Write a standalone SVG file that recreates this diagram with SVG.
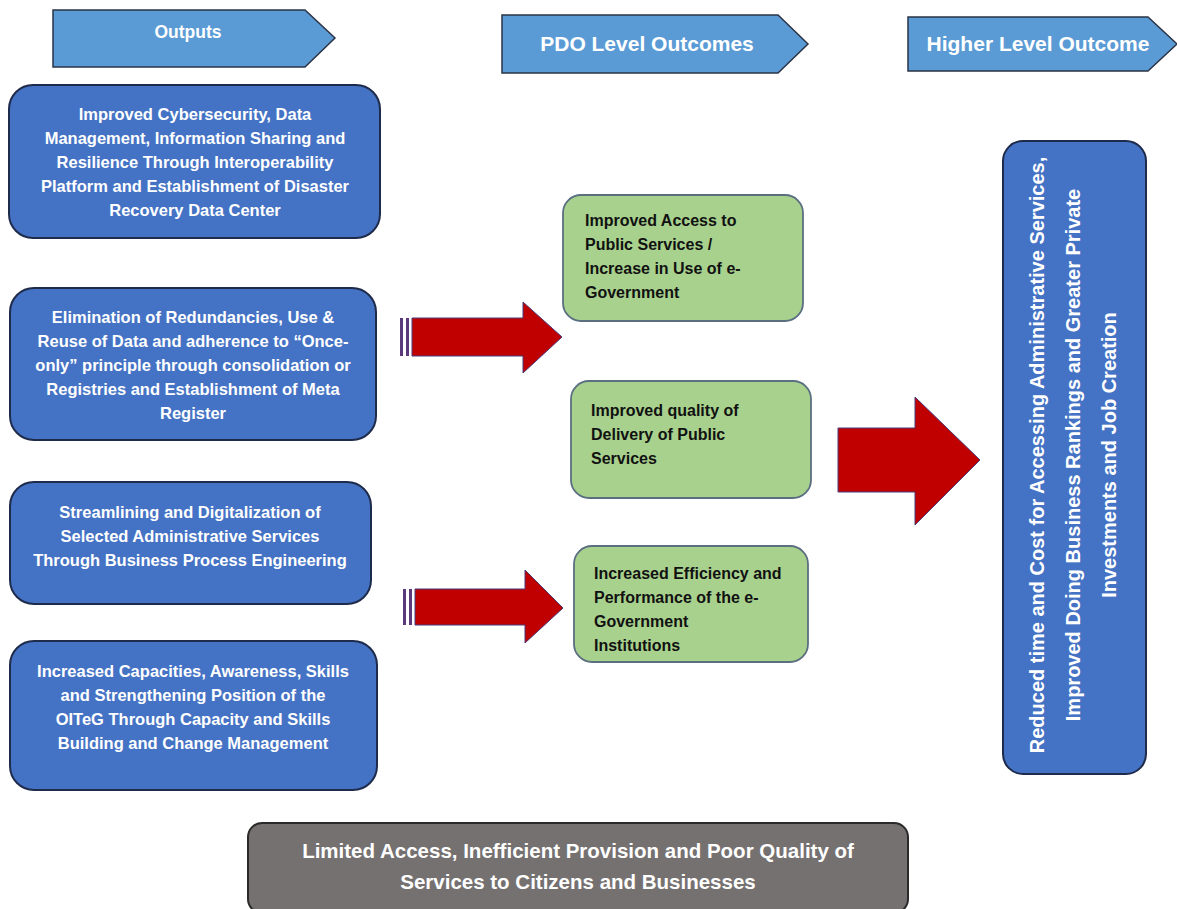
<svg xmlns="http://www.w3.org/2000/svg" width="1177" height="909" viewBox="0 0 1177 909">
<style>
.hdr{fill:#5B9BD5;stroke:#2b3445;stroke-width:1.5}
.out{fill:#4472C4;stroke:#1e2b4a;stroke-width:2}
.pdo{fill:#A9D18E;stroke:#5a6f80;stroke-width:1.8}
.gray{fill:#767171;stroke:#2a2a2a;stroke-width:2}
.red{fill:#C00000;stroke:#4a3a7a;stroke-width:1}
.stripe{fill:#5a3a7a}
text{font-family:"Liberation Sans",Arial,sans-serif;font-weight:bold}
.wt{fill:#ffffff}
.bk{fill:#111111}
.c{text-anchor:middle}
</style>
<rect width="1177" height="909" fill="#ffffff"/>
<g id="hdr-outputs">
<polygon class="hdr" points="53,10 305,10 335,38 305,67 53,67"/>
<text class="wt c" x="188" y="38" font-size="17.5">Outputs</text>
</g>
<g id="hdr-pdo">
<polygon class="hdr" points="502,15 778,15 808,44 778,73 502,73"/>
<text class="wt c" x="647" y="51" font-size="21">PDO Level Outcomes</text>
</g>
<g id="hdr-higher">
<polygon class="hdr" points="908,17 1148,17 1177,44 1148,71 908,71"/>
<text class="wt c" x="1038" y="51" font-size="21">Higher Level Outcome</text>
</g>
<g id="out1">
<rect class="out" x="9" y="85" width="371" height="153" rx="24"/>
<text class="wt c" font-size="16.5"><tspan x="195" y="120">Improved Cybersecurity, Data</tspan><tspan x="195" y="144">Management, Information Sharing  and</tspan><tspan x="195" y="168">Resilience Through Interoperability</tspan><tspan x="195" y="192">Platform and Establishment of Disaster</tspan><tspan x="195" y="216">Recovery Data Center</tspan></text>
</g>
<g id="out2">
<rect class="out" x="10" y="288" width="366" height="152" rx="24"/>
<text class="wt c" font-size="16.5"><tspan x="193" y="323">Elimination of Redundancies, Use &amp;</tspan><tspan x="193" y="347">Reuse of Data and adherence to “Once-</tspan><tspan x="193" y="371">only” principle through consolidation or</tspan><tspan x="193" y="395">Registries and Establishment of Meta</tspan><tspan x="193" y="419">Register</tspan></text>
</g>
<g id="out3">
<rect class="out" x="10" y="482" width="361" height="122" rx="24"/>
<text class="wt c" font-size="16.5"><tspan x="190" y="518">Streamlining  and Digitalization of</tspan><tspan x="190" y="542">Selected Administrative Services</tspan><tspan x="190" y="566">Through Business Process Engineering</tspan></text>
</g>
<g id="out4">
<rect class="out" x="10" y="641" width="367" height="149" rx="24"/>
<text class="wt c" font-size="16.5"><tspan x="193" y="677">Increased Capacities, Awareness, Skills</tspan><tspan x="193" y="701">and Strengthening Position of the</tspan><tspan x="193" y="725">OITeG Through Capacity and Skills</tspan><tspan x="193" y="749">Building and Change Management</tspan></text>
</g>
<g id="pdo1">
<rect class="pdo" x="563" y="195" width="240" height="126" rx="18"/>
<text class="bk" font-size="16"><tspan x="585" y="226">Improved Access to</tspan><tspan x="585" y="250">Public Services /</tspan><tspan x="585" y="274">Increase in Use of e-</tspan><tspan x="585" y="298">Government</tspan></text>
</g>
<g id="pdo2">
<rect class="pdo" x="571" y="381" width="240" height="117" rx="18"/>
<text class="bk" font-size="16"><tspan x="591" y="416">Improved quality of</tspan><tspan x="591" y="440">Delivery of Public</tspan><tspan x="591" y="464">Services</tspan></text>
</g>
<g id="pdo3">
<rect class="pdo" x="574" y="546" width="234" height="116" rx="18"/>
<text class="bk" font-size="16"><tspan x="594" y="579">Increased Efficiency and</tspan><tspan x="594" y="603">Performance of the e-</tspan><tspan x="594" y="627">Government</tspan><tspan x="594" y="651">Institutions</tspan></text>
</g>
<g id="higher">
<rect class="out" x="1003" y="141" width="143" height="633" rx="20"/>
<text class="wt c" font-size="20" transform="translate(1074,455) rotate(-90)"><tspan x="0" y="-30">Reduced time and Cost for Accessing Administrative Services,</tspan><tspan x="0" y="6">Improved Doing Business Rankings and Greater Private</tspan><tspan x="0" y="42">Investments and Job Creation</tspan></text>
</g>
<g id="problem">
<rect class="gray" x="248" y="823" width="660" height="90" rx="14"/>
<text class="wt c" font-size="20.5"><tspan x="578" y="858">Limited Access, Inefficient Provision and Poor Quality of</tspan><tspan x="578" y="889">Services to Citizens and Businesses</tspan></text>
</g>
<g id="connectors">
<g id="arrow1">
<rect class="stripe" x="400" y="318" width="3" height="38"/>
<rect class="stripe" x="406" y="318" width="3" height="38"/>
<polygon class="red" points="412,318 523,318 523,302 562,337 523,373 523,356 412,356"/>
</g>
<g id="arrow2">
<rect class="stripe" x="403" y="589" width="3" height="36"/>
<rect class="stripe" x="409" y="589" width="3" height="36"/>
<polygon class="red" points="415,589 525,589 525,570 563,608 525,643 525,625 415,625"/>
</g>
<g id="arrow3">
<polygon class="red" points="838,428 915,428 915,397 980,460 915,525 915,492 838,492"/>
</g>
</g>
</svg>
